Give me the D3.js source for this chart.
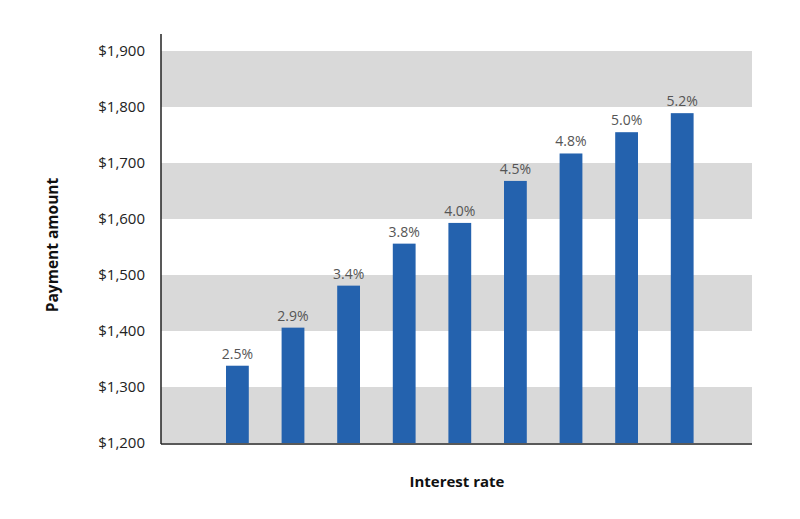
<!DOCTYPE html>
<html>
<head>
<meta charset="utf-8">
<script src="https://cdn.jsdelivr.net/npm/d3@7"></script>
<style>
  body { margin: 0; background: #fff; }
  svg { font-family: "Open Sans", "Noto Sans", sans-serif; }
</style>
</head>
<body>
<script>
const rates = ["2.5%", "2.9%", "3.4%", "3.8%", "4.0%", "4.5%", "4.8%", "5.0%", "5.2%"];
const payments = [1338, 1406, 1481, 1556, 1593, 1668, 1717, 1755, 1789];
const yTicks = [1200, 1300, 1400, 1500, 1600, 1700, 1800, 1900];

const width = 800, height = 519;
const plotLeft = 161, plotRight = 752, plotTop = 34, plotBottom = 443;

const svg = d3.select("body").append("svg")
  .attr("width", width)
  .attr("height", height);

const y = d3.scaleLinear().domain([1200, 1900]).range([plotBottom, 51]);
const x = d3.scaleBand().domain(rates).range([209.6, 710]).paddingInner(0.59).paddingOuter(0.295);

// alternating gray bands
svg.append("g").selectAll("rect")
  .data(yTicks.filter((d, i) => i % 2 == 0))
  .enter().append("rect")
  .attr("x", plotLeft)
  .attr("width", plotRight - plotLeft)
  .attr("y", d => y(d + 100))
  .attr("height", d => y(d) - y(d + 100))
  .attr("fill", "#d9d9d9");

svg.append("g").selectAll("rect")
  .data(payments)
  .enter().append("rect")
  .attr("x", (d, i) => x(rates[i]))
  .attr("width", x.bandwidth())
  .attr("y", d => y(d))
  .attr("height", d => y(1200) - y(d))
  .attr("fill", "#2462ae");

svg.append("g").selectAll("text")
  .data(payments)
  .enter().append("text")
  .attr("x", (d, i) => x(rates[i]) + x.bandwidth() / 2)
  .attr("y", d => y(d) - 7)
  .attr("text-anchor", "middle")
  .attr("font-size", 14)
  .attr("fill", "#555")
  .text((d, i) => rates[i]);

const yAxis = d3.axisLeft(y)
  .tickValues(yTicks)
  .tickSize(0)
  .tickPadding(16)
  .tickFormat(d => "$" + d3.format(",")(d));

const ya = svg.append("g")
  .attr("transform", `translate(${plotLeft},0)`)
  .call(yAxis);
ya.select(".domain").remove();
ya.selectAll("text").attr("font-size", 15).attr("fill", "#222").attr("font-family", "'Open Sans', sans-serif");

svg.append("line")
  .attr("x1", plotLeft).attr("x2", plotLeft)
  .attr("y1", plotTop).attr("y2", plotBottom + 1)
  .attr("stroke", "#222").attr("stroke-width", 1.5);
svg.append("line")
  .attr("x1", plotLeft).attr("x2", plotRight)
  .attr("y1", plotBottom + 1).attr("y2", plotBottom + 1)
  .attr("stroke", "#222").attr("stroke-width", 1.5);

svg.append("text")
  .attr("transform", "translate(58,245) rotate(-90)")
  .attr("text-anchor", "middle")
  .attr("font-size", 15.5)
  .attr("font-weight", "bold")
  .attr("fill", "#111")
  .text("Payment amount");

svg.append("text")
  .attr("x", 457)
  .attr("y", 487)
  .attr("text-anchor", "middle")
  .attr("font-size", 15)
  .attr("font-weight", "bold")
  .attr("fill", "#111")
  .text("Interest rate");
</script>
</body>
</html>
